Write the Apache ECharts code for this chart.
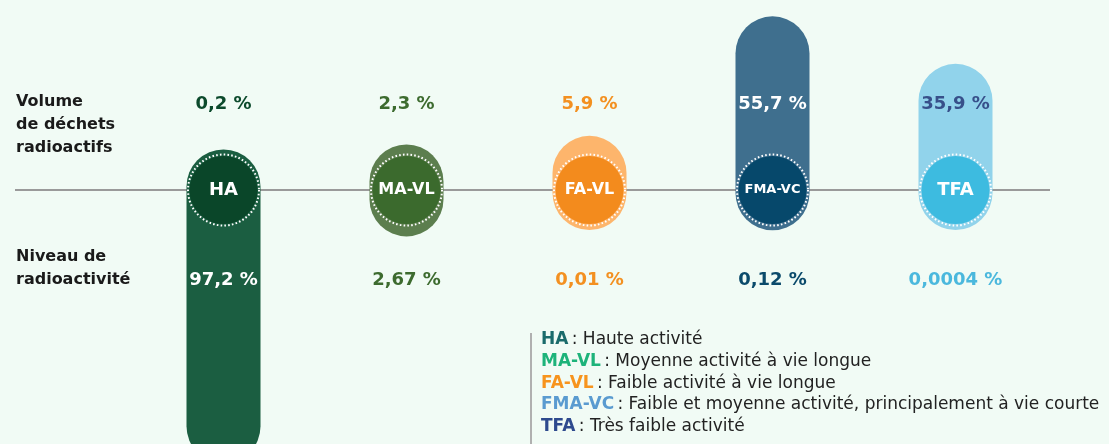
<!DOCTYPE html>
<html>
<head>
<meta charset="utf-8">
<script src="https://cdn.jsdelivr.net/npm/echarts@6/dist/echarts.min.js"></script>
<style>
  html, body { margin: 0; padding: 0; background: #f1fbf5; }
  #chart { width: 1109px; height: 444px; }
</style>
</head>
<body>
<div id="chart"></div>
<script>
// catégories de déchets
var categories = ['HA', 'MA-VL', 'FA-VL', 'FMA-VC', 'TFA'];
// volume de déchets radioactifs (%)
var volume = [0.2, 2.3, 5.9, 55.7, 35.9];
var volumeLabels = ['0,2 %', '2,3 %', '5,9 %', '55,7 %', '35,9 %'];
// niveau de radioactivité (%)
var radioactivity = [97.2, 2.67, 0.01, 0.12, 0.0004];
var radioLabels = ['97,2 %', '2,67 %', '0,01 %', '0,12 %', '0,0004 %'];
// légende
var legendNames = [
  'Haute activité',
  'Moyenne activité à vie longue',
  'Faible activité à vie longue',
  'Faible et moyenne activité, principalement à vie courte',
  'Très faible activité'
];

// couleurs
var pillColors = ['#1b5e41', '#5c7e4e', '#fdb56c', '#3f6f8e', '#91d3eb'];
var circleColors = ['#0a4629', '#3b6a2d', '#f38b1d', '#06486b', '#3dbbe0'];
var volumeColors = ['#0c4a2c', '#3d6b2f', '#f39020', '#ffffff', '#37508a'];
var radioColors = ['#ffffff', '#3d6b2f', '#f39020', '#0b4a6b', '#4bb8dd'];
var legendColors = ['#1a6b6b', '#1db37a', '#f7941d', '#5a9bd0', '#2e4a8e'];
var centerFont = [18, 16, 16, 13, 18];

var PX = 2.4;          // pixels par point de %
var BASE = 40 / PX;    // rayon du cercle central, en unités d'axe
var PILL_W = 74;
var VOL_ROW = 35.5;    // ligne des étiquettes "volume"
var RADIO_ROW = -37.8; // ligne des étiquettes "radioactivité"
var FONT = '"DejaVu Sans", sans-serif';

var chart = echarts.init(document.getElementById('chart'));

function renderPill (params, api) {
  var i = params.dataIndex;
  var c = api.coord([i, 0]);
  var top = api.coord([i, BASE + api.value(1)]);
  var bottom = api.coord([i, -(BASE + api.value(2))]);
  var vl = api.coord([i, VOL_ROW]);
  var rl = api.coord([i, RADIO_ROW]);
  return {
    type: 'group',
    children: [
      {
        type: 'rect',
        shape: { x: c[0] - PILL_W / 2, y: top[1], width: PILL_W, height: bottom[1] - top[1], r: PILL_W / 2 },
        style: { fill: pillColors[i] }
      },
      {
        type: 'circle',
        shape: { cx: c[0], cy: c[1], r: 34 },
        style: { fill: circleColors[i] }
      },
      {
        type: 'circle',
        shape: { cx: c[0], cy: c[1], r: 35.5 },
        style: { fill: null, stroke: '#ffffff', lineWidth: 2, lineDash: [1.6, 2.2] }
      },
      {
        type: 'text',
        x: c[0], y: c[1],
        style: {
          text: categories[i], fill: '#ffffff',
          font: 'bold ' + centerFont[i] + 'px ' + FONT,
          align: 'center', verticalAlign: 'middle'
        }
      },
      {
        type: 'text',
        x: vl[0], y: vl[1],
        style: {
          text: volumeLabels[i], fill: volumeColors[i],
          font: 'bold 18px ' + FONT,
          align: 'center', verticalAlign: 'middle'
        }
      },
      {
        type: 'text',
        x: rl[0], y: rl[1],
        style: {
          text: radioLabels[i], fill: radioColors[i],
          font: 'bold 18px ' + FONT,
          align: 'center', verticalAlign: 'middle'
        }
      }
    ]
  };
}

// ligne de base
function renderBaseline (params, api) {
  var y = api.coord([0, 0])[1];
  return {
    type: 'line',
    shape: { x1: 15, y1: y, x2: 1050, y2: y },
    style: { stroke: '#9a9a9a', lineWidth: 2 }
  };
}

var legendText = categories.map(function (c, i) {
  return '{c' + i + '|' + c + '} {t|: ' + legendNames[i] + '}';
}).join('\n');
var rich = { t: { fill: '#222222', fontSize: 17, fontFamily: 'DejaVu Sans', lineHeight: 21.8 } };
categories.forEach(function (c, i) {
  rich['c' + i] = { fill: legendColors[i], fontSize: 17, fontWeight: 'bold', fontFamily: 'DejaVu Sans', lineHeight: 21.8 };
});

var option = {
  backgroundColor: '#f1fbf5',
  animation: false,
  grid: { left: 132, width: 915, top: 0, height: 444 },
  xAxis: { type: 'category', data: categories, show: false },
  yAxis: { type: 'value', min: -254 / PX, max: 190 / PX, show: false },
  graphic: [
    {
      type: 'text', left: 16, top: 90,
      style: { text: 'Volume\nde déchets\nradioactifs', fill: '#1a1a1a', font: 'bold 16px ' + FONT, lineHeight: 23 }
    },
    {
      type: 'text', left: 16, top: 245,
      style: { text: 'Niveau de\nradioactivité', fill: '#1a1a1a', font: 'bold 16px ' + FONT, lineHeight: 23 }
    },
    {
      type: 'line', shape: { x1: 531, y1: 333, x2: 531, y2: 444 },
      style: { stroke: '#b0b0b0', lineWidth: 2 }
    },
    {
      type: 'text', left: 541, top: 331,
      style: { text: legendText, rich: rich }
    }
  ],
  series: [
    { type: 'custom', z: 1, renderItem: renderBaseline, data: [[0, 0]], silent: true },
    {
      type: 'custom', z: 2, renderItem: renderPill,
      data: categories.map(function (c, i) { return [i, volume[i], radioactivity[i]]; })
    }
  ]
};
chart.setOption(option);
</script>
</body>
</html>
